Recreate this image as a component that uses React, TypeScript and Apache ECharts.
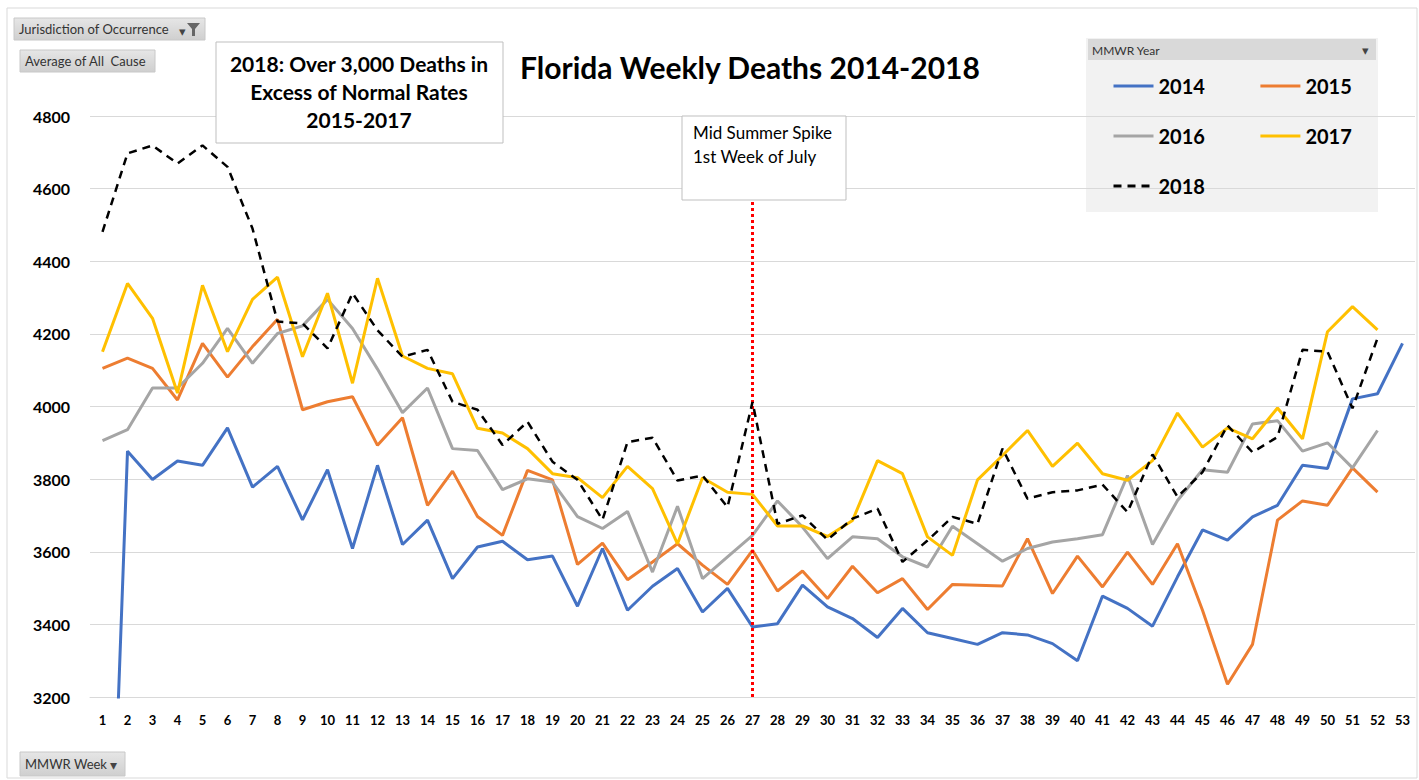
import React, { useEffect, useRef } from "react";
import * as echarts from "echarts";

const weeks: string[] = [
  "1","2","3","4","5","6","7","8","9","10","11","12","13","14","15","16","17","18","19","20",
  "21","22","23","24","25","26","27","28","29","30","31","32","33","34","35","36","37","38","39","40",
  "41","42","43","44","45","46","47","48","49","50","51","52","53",
];

const y2014: (number | null)[] = [
  2000, 3877, 3799, 3850, 3838, 3941, 3778, 3835, 3688, 3826, 3609, 3838, 3620, 3687, 3526, 3613, 3629, 3578, 3588, 3450,
  3609, 3439, 3505, 3554, 3434, 3499, 3393, 3402, 3508, 3448, 3416, 3364, 3444, 3377, 3361, 3345, 3377, 3371, 3347, 3300,
  3478, 3444, 3395, 3531, 3660, 3632, 3696, 3728, 3838, 3829, 4021, 4035, 4174,
];
const y2015: (number | null)[] = [
  4105, 4133, 4105, 4018, 4174, 4081, 4165, 4240, 3991, 4013, 4027, 3893, 3969, 3728, 3822, 3697, 3645, 3824, 3798, 3565,
  3624, 3523, 3572, 3622, 3563, 3510, 3604, 3492, 3547, 3471, 3560, 3487, 3526, 3441, 3510, 3508, 3506, 3636, 3485, 3588,
  3503, 3599, 3510, 3622, 3439, 3235, 3345, 3687, 3740, 3728, 3831, 3764, null,
];
const y2016: (number | null)[] = [
  3906, 3936, 4051, 4051, 4119, 4215, 4119, 4201, 4222, 4295, 4215, 4103, 3983, 4051, 3884, 3879, 3771, 3801, 3792, 3697,
  3664, 3711, 3544, 3725, 3526, 3586, 3645, 3740, 3668, 3581, 3641, 3636, 3586, 3558, 3670, 3622, 3574, 3609, 3627, 3636,
  3647, 3810, 3620, 3741, 3826, 3819, 3952, 3961, 3877, 3900, 3831, 3934, null,
];
const y2017: (number | null)[] = [
  4151, 4339, 4243, 4037, 4334, 4151, 4295, 4356, 4137, 4312, 4064, 4353, 4139, 4105, 4090, 3940, 3927, 3884, 3815, 3804,
  3749, 3835, 3774, 3622, 3804, 3764, 3758, 3671, 3671, 3642, 3686, 3851, 3815, 3641, 3590, 3798, 3865, 3934, 3835, 3899,
  3815, 3797, 3851, 3982, 3888, 3941, 3911, 3996, 3911, 4206, 4275, 4211, null,
];
const y2018: (number | null)[] = [
  4481, 4697, 4719, 4669, 4719, 4660, 4490, 4234, 4229, 4160, 4312, 4210, 4137, 4156, 4013, 3991, 3894, 3958, 3848, 3798,
  3688, 3902, 3914, 3796, 3810, 3723, 4012, 3677, 3700, 3633, 3691, 3719, 3572, 3631, 3696, 3677, 3884, 3746, 3764, 3769,
  3785, 3709, 3868, 3751, 3819, 3948, 3874, 3916, 4156, 4151, 3995, 4188, null,
];

const seriesNames = ["2014", "2015", "2016", "2017", "2018"];
const seriesColors = ["#4472C4", "#ED7D31", "#A5A5A5", "#FFC000", "#000000"];

const spikeWeek = "27";
const spikeRange = [3200, 4570];

const FONT = "Lato, 'Noto Sans', sans-serif";

export default function App() {
  const ref = useRef<HTMLDivElement>(null);

  useEffect(() => {
    if (!ref.current) return;
    const chart = echarts.init(ref.current, undefined, { renderer: "svg" });
    const datas = [y2014, y2015, y2016, y2017, y2018];

    const series: any[] = datas.map((d, i) => ({
      name: seriesNames[i],
      type: "line",
      data: d,
      symbol: "none",
      showSymbol: false,
      connectNulls: false,
      clip: true,
      lineStyle: {
        color: seriesColors[i],
        width: i === 4 ? 2.5 : 3,
        type: i === 4 ? [8, 6] : "solid",
      },
      itemStyle: { color: seriesColors[i] },
      z: 2 + i,
    }));

    series[4].markLine = {
      silent: true,
      symbol: "none",
      label: { show: false },
      lineStyle: { color: "#FF0000", width: 3, type: [3, 3] },
      data: [
        [
          { coord: [spikeWeek, spikeRange[0]] },
          { coord: [spikeWeek, spikeRange[1]] },
        ],
      ],
    };

    const legendCommon = {
      orient: "horizontal",
      padding: 0,
      itemWidth: 40,
      itemHeight: 14,
      itemGap: 54,
      itemStyle: { opacity: 0, borderWidth: 0 },
      lineStyle: { width: 3 },
      textStyle: { fontFamily: FONT, fontWeight: "bold", fontSize: 20, color: "#000" },
      selectedMode: false,
    };

    const btn = (x: number, y: number, w: number, h: number, label: string, arrow: boolean) => ({
      type: "group",
      children: [
        {
          type: "rect",
          shape: { x, y, width: w, height: h },
          style: {
            fill: new echarts.graphic.LinearGradient(0, 0, 0, 1, [
              { offset: 0, color: "#e6e6e6" },
              { offset: 1, color: "#cfcfcf" },
            ]),
            stroke: "#c8c8c8",
            lineWidth: 1,
          },
        },
        {
          type: "text",
          style: {
            x: x + 5,
            y: y + h / 2,
            text: label,
            fill: "#333",
            font: `13px ${FONT}`,
            verticalAlign: "middle",
          },
        },
        ...(arrow
          ? [
              {
                type: "text",
                style: {
                  x: x + w - 12,
                  y: y + h / 2,
                  text: "▾",
                  fill: "#444",
                  font: `14px ${FONT}`,
                  verticalAlign: "middle",
                  align: "center",
                },
              },
            ]
          : []),
      ],
    });

    const boxText = (x: number, y: number, text: string, font: string, align: string) => ({
      type: "text",
      z: 101,
      style: { x, y, text, fill: "#000", font, align, verticalAlign: "middle" },
    });

    chart.setOption({
      animation: false,
      backgroundColor: "#ffffff",
      title: {
        text: "Florida Weekly Deaths 2014-2018",
        left: 745,
        top: 47,
        textAlign: "center",
        textStyle: { fontFamily: FONT, fontWeight: "bold", fontSize: 30, color: "#000" },
      },
      legend: [
        { ...legendCommon, data: ["2014", "2015"], left: 1112, top: 76 },
        { ...legendCommon, data: ["2016", "2017"], left: 1112, top: 126 },
        { ...legendCommon, data: ["2018"], left: 1112, top: 176 },
      ],
      grid: { left: 90, top: 116, width: 1325, height: 581, containLabel: false },
      xAxis: {
        type: "category",
        data: weeks,
        boundaryGap: true,
        axisLine: { show: true, lineStyle: { color: "#d9d9d9", width: 1 } },
        axisTick: { show: false },
        axisLabel: {
          interval: 0,
          margin: 16,
          fontFamily: FONT,
          fontWeight: "bold",
          fontSize: 13,
          color: "#000",
        },
      },
      yAxis: {
        type: "value",
        min: 3200,
        max: 4800,
        interval: 200,
        axisLine: { show: false },
        axisTick: { show: false },
        splitLine: { lineStyle: { color: "#d9d9d9", width: 1 } },
        axisLabel: {
          margin: 20,
          fontFamily: FONT,
          fontWeight: "bold",
          fontSize: 16,
          color: "#000",
          formatter: (v: number) => String(v),
        },
      },
      graphic: [
        {
          type: "rect",
          shape: { x: 7, y: 8, width: 1410, height: 770 },
          style: { fill: "none", stroke: "#d9d9d9", lineWidth: 1 },
          z: -1,
        },
        btn(14, 18, 191, 22, "Jurisdiction of Occurrence", false),
        {
          type: "text",
          style: { x: 182, y: 31, text: "▾", fill: "#444", font: `13px ${FONT}`, verticalAlign: "middle", align: "center" },
        },
        {
          type: "polygon",
          shape: { points: [[187, 23], [200, 23], [195, 29], [195, 36], [192, 36], [192, 29]] },
          style: { fill: "#666" },
        },
        btn(20, 50, 135, 22, "Average of All  Cause", false),
        btn(20, 752, 105, 24, "MMWR Week", true),
        {
          type: "rect",
          z: 0,
          shape: { x: 1086, y: 38, width: 292, height: 174 },
          style: { fill: "#f2f2f2", stroke: "none" },
        },
        {
          type: "rect",
          z: 1,
          shape: { x: 1088, y: 39, width: 288, height: 21 },
          style: { fill: "#d9d9d9", stroke: "none" },
        },
        {
          type: "text",
          z: 2,
          style: { x: 1092, y: 50, text: "MMWR Year", fill: "#333", font: `12px ${FONT}`, verticalAlign: "middle" },
        },
        {
          type: "text",
          z: 2,
          style: { x: 1365, y: 50, text: "▾", fill: "#444", font: `13px ${FONT}`, verticalAlign: "middle", align: "center" },
        },
        {
          type: "rect",
          z: 100,
          shape: { x: 216, y: 42, width: 287, height: 101 },
          style: { fill: "#ffffff", stroke: "#bfbfbf", lineWidth: 1 },
        },
        boxText(359, 63, "2018: Over 3,000 Deaths in", `bold 21px ${FONT}`, "center"),
        boxText(359, 91, "Excess of Normal Rates", `bold 21px ${FONT}`, "center"),
        boxText(359, 119, "2015-2017", `bold 21px ${FONT}`, "center"),
        {
          type: "rect",
          z: 100,
          shape: { x: 682, y: 116, width: 164, height: 84 },
          style: { fill: "#ffffff", stroke: "#bfbfbf", lineWidth: 1 },
        },
        boxText(693, 132, "Mid Summer Spike", `17px ${FONT}`, "left"),
        boxText(693, 156, "1st Week of July", `17px ${FONT}`, "left"),
      ],
      series,
    });

    return () => chart.dispose();
  }, []);

  return (
    <div
      ref={ref}
      style={{ position: "fixed", left: 0, top: 0, width: 1419, height: 780, background: "#fff" }}
    />
  );
}
